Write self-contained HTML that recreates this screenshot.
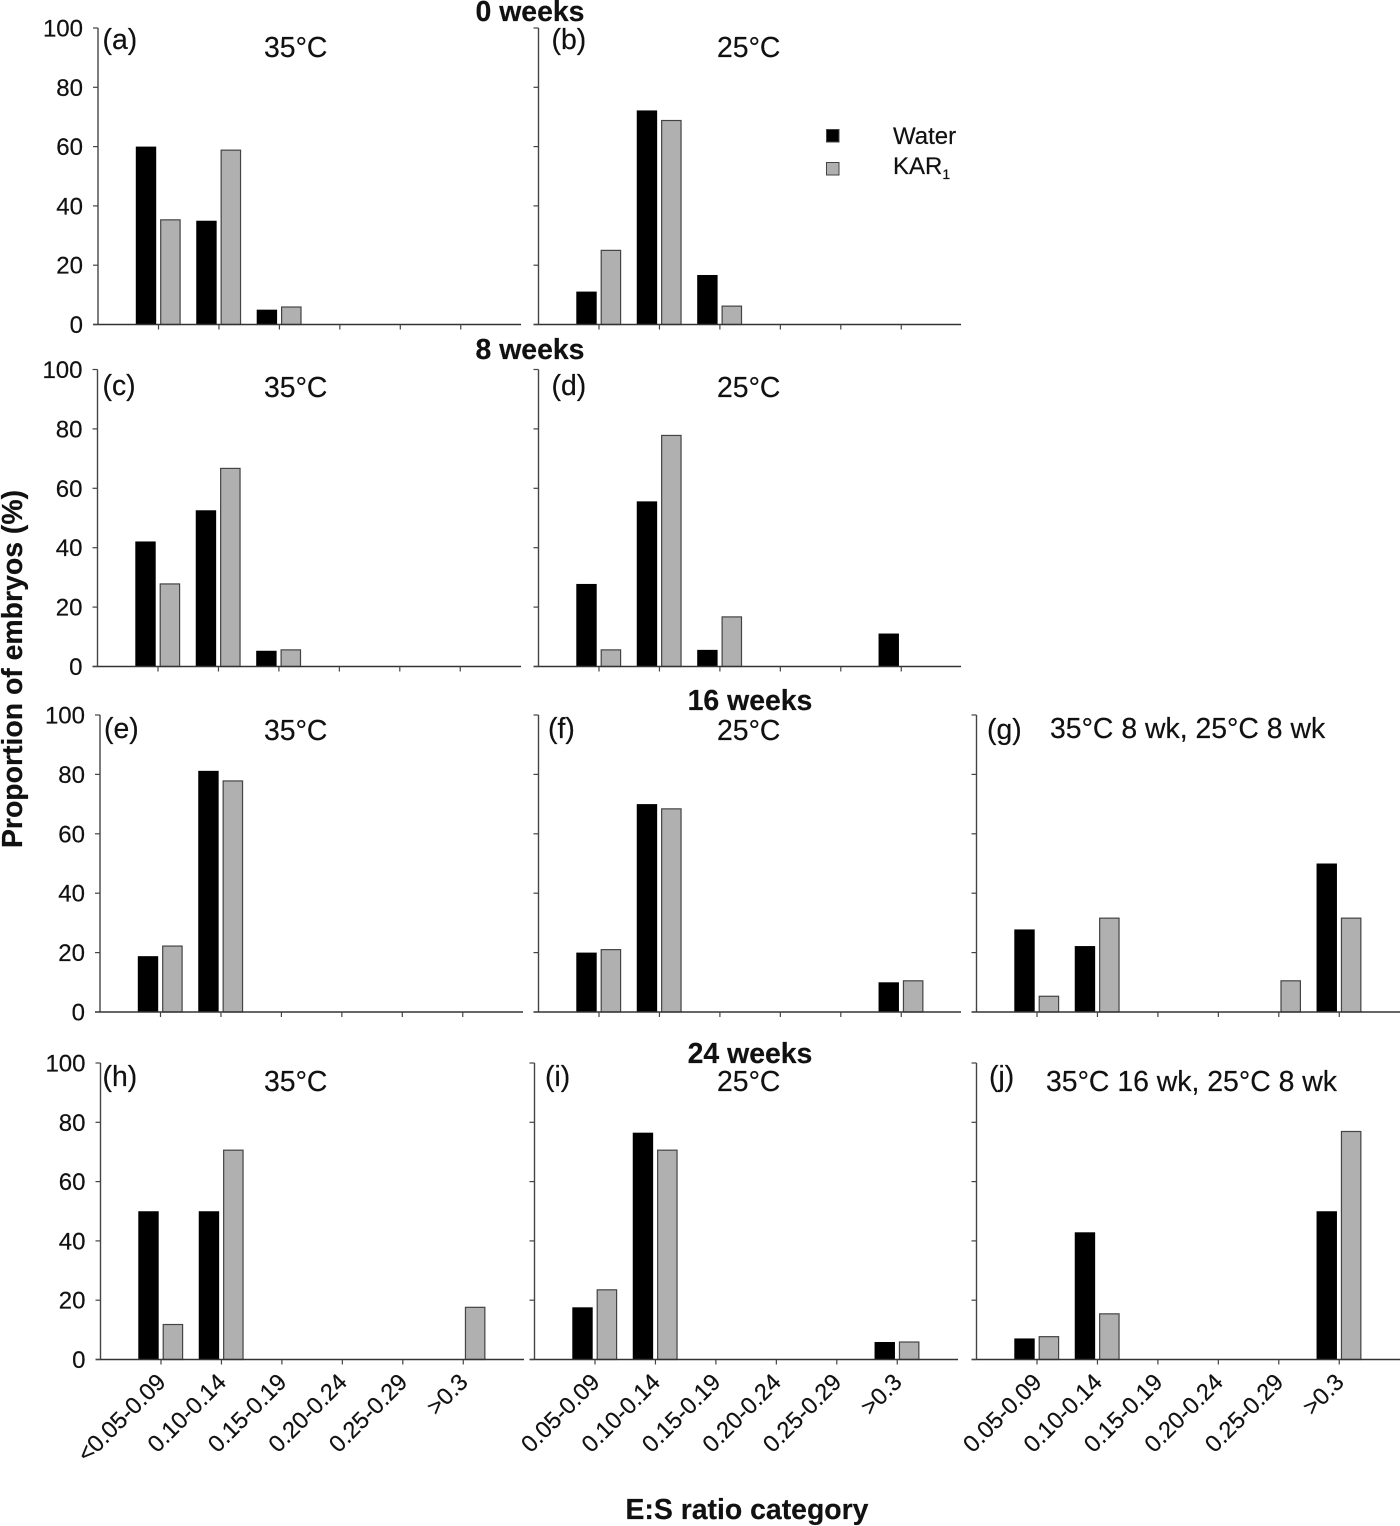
<!DOCTYPE html>
<html lang="en">
<head>
<meta charset="utf-8">
<title>Proportion of embryos by E:S ratio category</title>
<style>
html,body{margin:0;padding:0;background:#fff;width:1400px;height:1526px;overflow:hidden}
svg{display:block}
text{font-family:"Liberation Sans",Arial,sans-serif;fill:#111;stroke:#111;stroke-width:.2px}
.hdr{font-size:28.4px;font-weight:bold;text-anchor:middle}
.ttl{font-size:28.4px}
.big{font-size:28.4px;font-weight:bold}
.ytick{font-size:24px;text-anchor:end}
.xtick{font-size:23.5px;text-anchor:end}
.leg{font-size:24px}
</style>
</head>
<body>
<svg id="chart" xmlns="http://www.w3.org/2000/svg" width="1400" height="1526" viewBox="0 0 1400 1526">
  <rect x="0" y="0" width="1400" height="1526" fill="#fff"/>
  <text class="hdr" x="530" y="21">0 weeks</text>
  <text class="hdr" x="530" y="359">8 weeks</text>
  <text class="hdr" x="750" y="710">16 weeks</text>
  <text class="hdr" x="750" y="1063">24 weeks</text>

  <text class="ttl" x="102.5" y="49">(a)</text>
  <text class="ttl" x="264" y="57">35°C</text>
  <text class="ttl" x="551.5" y="49">(b)</text>
  <text class="ttl" x="717" y="57">25°C</text>
  <text class="ttl" x="102.5" y="395">(c)</text>
  <text class="ttl" x="264" y="397">35°C</text>
  <text class="ttl" x="551.5" y="395">(d)</text>
  <text class="ttl" x="717" y="397">25°C</text>
  <text class="ttl" x="104" y="738">(e)</text>
  <text class="ttl" x="264" y="740">35°C</text>
  <text class="ttl" x="548" y="738">(f)</text>
  <text class="ttl" x="717" y="740">25°C</text>
  <text class="ttl" x="987" y="739">(g)</text>
  <text class="ttl" x="1050" y="738">35°C 8 wk, 25°C 8 wk</text>
  <text class="ttl" x="102.5" y="1086">(h)</text>
  <text class="ttl" x="264" y="1091">35°C</text>
  <text class="ttl" x="545" y="1086">(i)</text>
  <text class="ttl" x="717" y="1091">25°C</text>
  <text class="ttl" x="989" y="1086">(j)</text>
  <text class="ttl" x="1046" y="1091">35°C 16 wk, 25°C 8 wk</text>

  <g>
    <rect x="826.5" y="129.5" width="12.5" height="12.5" fill="#000" stroke="#444"/>
    <text class="leg" x="893" y="144">Water</text>
    <rect x="826.5" y="162.5" width="12.5" height="12.5" fill="#b0b0b0" stroke="#444"/>
    <text class="leg" x="893" y="174">KAR<tspan font-size="14" dy="5">1</tspan></text>
  </g>

  <text class="big" text-anchor="middle" transform="translate(22,669) rotate(-90)">Proportion of embryos (%)</text>
  <text class="big" x="747" y="1519" text-anchor="middle">E:S ratio category</text>
</svg>
<script>
var yTickLabels = [0, 20, 40, 60, 80, 100];
var categoriesFirst = ['<0.05-0.09', '0.10-0.14', '0.15-0.19', '0.20-0.24', '0.25-0.29', '>0.3'];
var categories = ['0.05-0.09', '0.10-0.14', '0.15-0.19', '0.20-0.24', '0.25-0.29', '>0.3'];

var waterA = [60, 35, 5, 0, 0, 0];
var kar1A = [35.3, 58.8, 5.9, 0, 0, 0];
var waterB = [11.1, 72.2, 16.7, 0, 0, 0];
var kar1B = [25, 68.8, 6.2, 0, 0, 0];
var waterC = [42.1, 52.6, 5.3, 0, 0, 0];
var kar1C = [27.8, 66.7, 5.6, 0, 0, 0];
var waterD = [27.8, 55.6, 5.6, 0, 0, 11.1];
var kar1D = [5.6, 77.8, 16.7, 0, 0, 0];
var waterE = [18.8, 81.2, 0, 0, 0, 0];
var kar1E = [22.2, 77.8, 0, 0, 0, 0];
var waterF = [20, 70, 0, 0, 0, 10];
var kar1F = [21, 68.4, 0, 0, 0, 10.5];
var waterG = [27.8, 22.2, 0, 0, 0, 50];
var kar1G = [5.3, 31.6, 0, 0, 10.5, 31.6];
var waterH = [50, 50, 0, 0, 0, 0];
var kar1H = [11.8, 70.6, 0, 0, 0, 17.6];
var waterI = [17.6, 76.5, 0, 0, 0, 5.9];
var kar1I = [23.5, 70.6, 0, 0, 0, 5.9];
var waterJ = [7.1, 42.9, 0, 0, 0, 50];
var kar1J = [7.7, 15.4, 0, 0, 0, 76.9];

var NS = 'http://www.w3.org/2000/svg';
var svg = document.getElementById('chart');
var AXIS = '#444';

function make(tag, attrs, parent) {
  var el = document.createElementNS(NS, tag);
  for (var k in attrs) el.setAttribute(k, attrs[k]);
  parent.appendChild(el);
  return el;
}

function drawPanel(id, water, kar1, box, labels, showY) {
  var g = make('g', {}, svg);
  
  

  var step = 60.45;
  function yScale(v) { return box.bottom - (v / 100) * (box.bottom - box.top); }
  function xScale(i) { return box.left + 60.5 + i * step; }

  water.forEach(function (v, i) {
    if (v <= 0) return;
    var r = make('rect', { x: xScale(i) - 22.7, y: yScale(v), width: 20.4, height: yScale(0) - yScale(v), fill: '#000' }, g);
    
    
  });
  kar1.forEach(function (v, i) {
    if (v <= 0) return;
    var r = make('rect', { x: xScale(i) + 2.2, y: yScale(v), width: 19.4, height: yScale(0) - yScale(v), fill: '#b0b0b0', stroke: AXIS, 'stroke-width': 1.2 }, g);
    
    
  });

  var yAxis = make('line', { x1: box.left, x2: box.left, y1: box.top, y2: box.bottom, stroke: AXIS, 'stroke-width': 1.4 }, g);
  
  

  var xAxis = make('line', { x1: box.left - 5, x2: box.right, y1: box.bottom, y2: box.bottom, stroke: '#333', 'stroke-width': 1.6 }, g);
  
  

  yTickLabels.forEach(function (t) {
    var tick = make('line', { x1: box.left - 5, x2: box.left, y1: yScale(t), y2: yScale(t), stroke: AXIS, 'stroke-width': 1.2 }, g);
    
    
    if (showY) {
      var lab = make('text', { 'class': 'ytick', x: box.left - 15, y: yScale(t) + 8.5 }, g);
      lab.textContent = t;
      
      
    }
  });

  water.forEach(function (_, i) {
    var tick = make('line', { x1: xScale(i), x2: xScale(i), y1: box.bottom, y2: box.bottom + 5, stroke: AXIS, 'stroke-width': 1.2 }, g);
    
    
    if (labels) {
      var px = xScale(i) + 6, py = box.bottom + 24;
      var lab = make('text', { 'class': 'xtick', x: px, y: py, transform: 'rotate(-45 ' + px + ' ' + py + ')' }, g);
      lab.textContent = labels[i];
      
      
    }
  });
}

drawPanel('a', waterA, kar1A, { left: 98, right: 521, top: 28, bottom: 324.5 }, null, true);
drawPanel('b', waterB, kar1B, { left: 538.5, right: 961, top: 28, bottom: 324.5 }, null, false);
drawPanel('c', waterC, kar1C, { left: 97.5, right: 521, top: 369.5, bottom: 666.5 }, null, true);
drawPanel('d', waterD, kar1D, { left: 538.5, right: 961, top: 369.5, bottom: 666.5 }, null, false);
drawPanel('e', waterE, kar1E, { left: 100, right: 523, top: 715, bottom: 1012 }, null, true);
drawPanel('f', waterF, kar1F, { left: 538.5, right: 961, top: 715, bottom: 1012 }, null, false);
drawPanel('g', waterG, kar1G, { left: 976.5, right: 1400, top: 715, bottom: 1012 }, null, false);
drawPanel('h', waterH, kar1H, { left: 100.5, right: 524, top: 1063, bottom: 1359.5 }, categoriesFirst, true);
drawPanel('i', waterI, kar1I, { left: 534.5, right: 958, top: 1063, bottom: 1359.5 }, categories, false);
drawPanel('j', waterJ, kar1J, { left: 976.5, right: 1400, top: 1063, bottom: 1359.5 }, categories, false);
</script>
</body>
</html>
